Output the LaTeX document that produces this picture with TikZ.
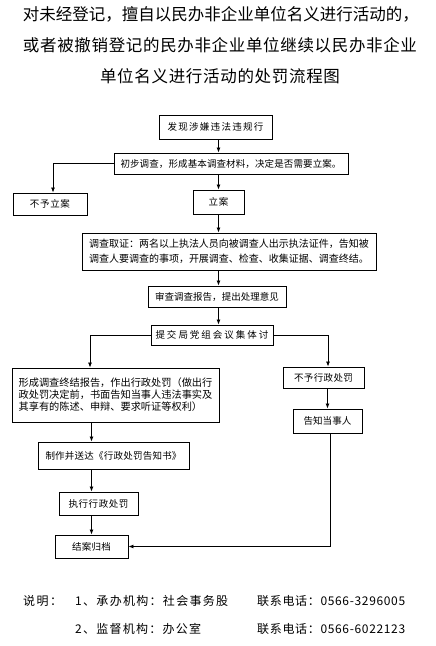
\documentclass[tikz,border=0pt]{standalone}
\usepackage{fontspec}
\setmainfont{Noto Sans CJK SC}
\usetikzlibrary{arrows.meta}
\makeatletter
\def\spreadtext#1{#1\spread@x}
\def\spread@x#1{\ifx#1\relax\else\hfil#1\expandafter\spread@x\fi}
\makeatother
\newcommand\spr[2]{\makebox[#1][s]{\spreadtext#2\relax}}
\tikzset{
  box/.style={draw, line width=0.9pt, inner sep=0pt, font=\fontsize{9.5}{11}\selectfont},
  arr/.style={-{Latex[length=5pt,width=4pt]}, line width=0.8pt},
  ln/.style={line width=0.8pt},
  ttl/.style={inner sep=0pt, font=\fontsize{16.5}{18}\selectfont},
  foot/.style={inner sep=0pt, anchor=west, font=\fontsize{12}{14}\selectfont}
}
\begin{document}
\begin{tikzpicture}[x=1pt,y=-1pt]
\fill[white] (0,0) rectangle (436,646);
\useasboundingbox (0,0) rectangle (436,646);
% title
\node[ttl] (t1) at (220,14) {\spr{394pt}{对未经登记，擅自以民办非企业单位名义进行活动的，}};
\node[ttl] (t2) at (220,45) {\spr{394pt}{或者被撤销登记的民办非企业单位继续以民办非企业}};
\node[ttl] (t3) at (220,76) {\spr{240pt}{单位名义进行活动的处罚流程图}};
% boxes
\node[box, minimum width=113, minimum height=24] (b1) at (215.5,127) {\spr{96pt}{发现涉嫌违法违规行}};
\node[box, minimum width=234, minimum height=21] (b2) at (231,163.5) {\spr{221pt}{初步调查，形成基本调查材料，决定是否需要立案。}};
\node[box, minimum width=74, minimum height=22] (nolian) at (50,204) {\spr{40pt}{不予立案}};
\node[box, minimum width=51, minimum height=24] (lian) at (218.5,202) {\spr{20pt}{立案}};
\node[box, minimum width=294, minimum height=37, align=left, font=\fontsize{10}{15}\selectfont] (inv) at (229,251.5) {调查取证：两名以上执法人员向被调查人出示执法证件，告知被\\调查人要调查的事项，开展调查、检查、收集证据、调查终结。};
\node[box, minimum width=138, minimum height=21] (rev) at (217,296.5) {\spr{124pt}{审查调查报告，提出处理意见}};
\node[box, minimum width=122, minimum height=20] (meet) at (212,335) {\spr{113pt}{提交局党组会议集体讨}};
\node[box, minimum width=207, minimum height=54, align=left, font=\fontsize{10.2}{12}\selectfont] (form) at (115.5,395) {形成调查终结报告，作出行政处罚（做出行\\政处罚决定前，书面告知当事人违法事实及\\其享有的陈述、申辩、要求听证等权利）};
\node[box, minimum width=151, minimum height=27] (make) at (113.5,455.5) {\spr{136pt}{制作并送达《行政处罚告知书》}};
\node[box, minimum width=81, minimum height=21] (nopen) at (323.5,377.5) {\spr{59pt}{不予行政处罚}};
\node[box, minimum width=69, minimum height=24] (notify) at (327.5,421) {\spr{48pt}{告知当事人}};
\node[box, minimum width=79, minimum height=23] (exec) at (98.5,503.5) {\spr{60pt}{执行行政处罚}};
\node[box, minimum width=73, minimum height=23] (arch) at (91.5,546.5) {\spr{39pt}{结案归档}};
% connectors
\draw[arr] (b1.south -| lian) -- (b2.north -| lian);
\draw[arr] (b2.west) -| ([xshift=3pt]nolian.north);
\draw[arr] (b2.south -| lian) -- (lian.north);
\draw[arr] (lian.south) -- (inv.north -| lian);
\draw[arr] (inv.south -| lian) -- (rev.north -| lian);
\draw[arr] (rev.south -| lian) -- (meet.north -| lian);
\draw[arr] (meet.west) -| ([xshift=-25.5pt]form.north);
\draw[arr] (meet.east) -| ([xshift=4.5pt]nopen.north);
\draw[arr] (nopen.south -| notify) -- (notify.north);
\draw[arr] (form.south -| arch) -- (make.north -| arch);
\draw[arr] (make.south -| arch) -- (exec.north -| arch);
\draw[arr] (exec.south -| arch) -- (arch.north);
\draw[arr] ([xshift=2.5pt]notify.south) |- (arch.east);
% footer
\node[foot] (f0) at (23,601) {\spr{39pt}{说明：}};
\node[foot] (f1) at (75,601) {\spr{153pt}{1、承办机构：社会事务股}};
\node[foot] (f2) at (257,601) {\spr{148pt}{联系电话：0566-3296005}};
\node[foot] (f3) at (75,629) {\spr{126pt}{2、监督机构：办公室}};
\node[foot] (f4) at (257,629) {\spr{148pt}{联系电话：0566-6022123}};
\end{tikzpicture}
\end{document}
